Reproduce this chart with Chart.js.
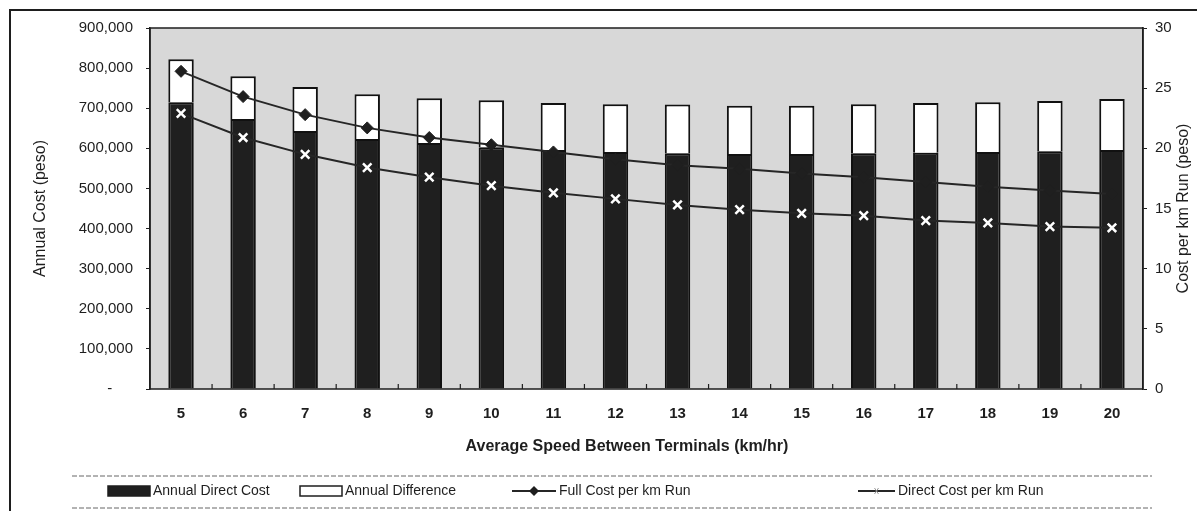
<!DOCTYPE html>
<html>
<head>
<meta charset="utf-8">
<script src="https://cdn.jsdelivr.net/npm/chart.js@4.4.0/dist/chart.umd.min.js"></script>
<style>
  html, body { margin: 0; padding: 0; background: #fff; }
  #wrap { width: 1197px; height: 511px; }
</style>
</head>
<body>
<div id="wrap"><canvas id="myChart" width="1197" height="511"></canvas></div>
<script>
const speeds = ["5", "6", "7", "8", "9", "10", "11", "12", "13", "14", "15", "16", "17", "18", "19", "20"],
    annualDirectCost = [715000, 673000, 643000, 623000, 613000, 603000, 596000, 591000, 588000, 586000, 586000, 588000, 589000, 591000, 593000, 596000],
    annualDifference = [107000, 107000, 110000, 112000, 112000, 117000, 117000, 119000, 121000, 120000, 120000, 122000, 124000, 124000, 125000, 127000],
    fullCostPerKm = [26.4, 24.3, 22.8, 21.7, 20.9, 20.3, 19.7, 19.1, 18.6, 18.3, 17.9, 17.6, 17.2, 16.8, 16.5, 16.2],
    directCostPerKm = [22.9, 20.9, 19.5, 18.4, 17.6, 16.9, 16.3, 15.8, 15.3, 14.9, 14.6, 14.4, 14.0, 13.8, 13.5, 13.4],
    costTicks = [0, 100000, 200000, 300000, 400000, 500000, 600000, 700000, 800000, 900000],
    perKmTicks = [0, 5, 10, 15, 20, 25, 30];

const FONT = "'Liberation Sans', Arial, sans-serif",
    INK = "#1e1e1e",
    BAR_DARK = "#1f1f1f";

// page furniture: plot fill, frame, inside ticks, titles, legend
const furniture = {
    id: "furniture",
    beforeDraw(chart) {
        const { ctx, chartArea: a } = chart;
        ctx.save();
        ctx.fillStyle = "#fff";
        ctx.fillRect(0, 0, chart.width, chart.height);
        ctx.fillStyle = "#d8d8d8";
        ctx.fillRect(a.left, a.top, a.right - a.left, a.bottom - a.top);
        ctx.restore();
    },
    afterDraw(chart) {
        const { ctx, chartArea: a } = chart,
            x = chart.scales.x;
        ctx.save();
        ctx.strokeStyle = INK;
        ctx.lineWidth = 1.5;
        ctx.strokeRect(a.left, a.top, a.right - a.left, a.bottom - a.top);

        // outer frame (only top + left show in the scan)
        ctx.lineWidth = 2;
        ctx.beginPath();
        ctx.moveTo(10, chart.height);
        ctx.lineTo(10, 10);
        ctx.lineTo(chart.width, 10);
        ctx.stroke();

        // small ticks between categories, pointing up into the plot
        ctx.lineWidth = 1.2;
        for (let i = 0; i < speeds.length - 1; i++) {
            const px = (x.getPixelForTick(i) + x.getPixelForTick(i + 1)) / 2;
            ctx.beginPath();
            ctx.moveTo(px, a.bottom);
            ctx.lineTo(px, a.bottom - 5);
            ctx.stroke();
        }

        ctx.fillStyle = INK;
        ctx.textAlign = "center";
        ctx.textBaseline = "middle";

        // x title sits a bit left of the plot centre in the original
        ctx.font = "bold 16px " + FONT;
        ctx.fillText("Average Speed Between Terminals (km/hr)", 627, 447);

        // right axis title, reads bottom to top
        ctx.font = "16px " + FONT;
        ctx.translate(1184, (a.top + a.bottom) / 2);
        ctx.rotate(-Math.PI / 2);
        ctx.fillText("Cost per km Run (peso)", 0, 0);
        ctx.restore();

        drawLegend(chart);
    }
};

function drawLegend(chart) {
    const ctx = chart.ctx,
        ds = chart.data.datasets,
        y = 491;
    ctx.save();
    ctx.strokeStyle = "#666";
    ctx.lineWidth = 1;
    ctx.setLineDash([5, 2]);
    ctx.beginPath();
    ctx.moveTo(72, 476); ctx.lineTo(1152, 476);
    ctx.moveTo(72, 508); ctx.lineTo(1152, 508);
    ctx.stroke();
    ctx.setLineDash([]);

    ctx.font = "14px " + FONT;
    ctx.textBaseline = "middle";

    // bar entries
    const bars = [[ds[2], 108], [ds[3], 300]];
    for (const [d, lx] of bars) {
        ctx.fillStyle = d.backgroundColor;
        ctx.fillRect(lx, y - 5, 42, 10);
        ctx.strokeStyle = INK;
        ctx.lineWidth = 1.5;
        ctx.strokeRect(lx, y - 5, 42, 10);
        ctx.fillStyle = INK;
        ctx.fillText(d.label, lx + 45, y);
    }

    // line entries
    const lines = [[ds[0], 512, 44], [ds[1], 858, 37]];
    for (const [d, lx, w] of lines) {
        const cx = lx + w / 2;
        ctx.strokeStyle = d.borderColor;
        ctx.lineWidth = 2;
        ctx.beginPath();
        ctx.moveTo(lx, y); ctx.lineTo(lx + w, y);
        ctx.stroke();
        if (d.pointStyle === "rectRot") {
            ctx.fillStyle = INK;
            ctx.beginPath();
            ctx.moveTo(cx, y - 5);
            ctx.lineTo(cx + 5, y);
            ctx.lineTo(cx, y + 5);
            ctx.lineTo(cx - 5, y);
            ctx.closePath();
            ctx.fill();
        } else {
            ctx.strokeStyle = "#999";
            ctx.lineWidth = 1;
            ctx.beginPath();
            ctx.moveTo(cx - 2, y - 3); ctx.lineTo(cx + 2, y + 3);
            ctx.moveTo(cx + 2, y - 3); ctx.lineTo(cx - 2, y + 3);
            ctx.stroke();
        }
        ctx.fillStyle = INK;
        ctx.fillText(d.label, lx + w + 3, y);
    }
    ctx.restore();
}

const ctx = document.getElementById("myChart").getContext("2d"),
    myChart = new Chart(ctx, {
        type: "bar",
        data: {
            labels: speeds,
            datasets: [{
                type: "line",
                label: "Full Cost per km Run",
                data: fullCostPerKm,
                yAxisID: "y1",
                order: 0,
                borderColor: "#262626",
                borderWidth: 2,
                pointStyle: "rectRot",
                pointRadius: 6,
                pointBackgroundColor: BAR_DARK,
                pointBorderColor: BAR_DARK,
                pointBorderWidth: 1
            }, {
                type: "line",
                label: "Direct Cost per km Run",
                data: directCostPerKm,
                yAxisID: "y1",
                order: 0,
                borderColor: "#262626",
                borderWidth: 2,
                pointStyle: "crossRot",
                pointRadius: 6,
                pointBackgroundColor: "#fff",
                pointBorderColor: "#fff",
                pointBorderWidth: 2.5
            }, {
                label: "Annual Direct Cost",
                data: annualDirectCost,
                yAxisID: "y",
                order: 1,
                backgroundColor: BAR_DARK,
                borderColor: "#111",
                borderWidth: 2,
                barPercentage: 0.41,
                categoryPercentage: 1
            }, {
                label: "Annual Difference",
                data: annualDifference,
                yAxisID: "y",
                order: 1,
                backgroundColor: "#ffffff",
                borderColor: "#111",
                borderWidth: 2,
                barPercentage: 0.41,
                categoryPercentage: 1
            }]
        },
        options: {
            responsive: false,
            animation: false,
            devicePixelRatio: 1,
            layout: { padding: { top: 28, left: 0, right: 0, bottom: 52 } },
            plugins: {
                legend: { display: false },
                tooltip: { enabled: false }
            },
            scales: {
                x: {
                    stacked: true,
                    offset: true,
                    grid: { display: false, drawTicks: false },
                    border: { display: false },
                    ticks: { color: INK, padding: 16, font: { family: FONT, size: 15, weight: "bold" } },
                    afterFit(scale) { scale.height = 70; }
                },
                y: {
                    stacked: true,
                    position: "left",
                    min: costTicks[0],
                    max: costTicks[costTicks.length - 1],
                    afterBuildTicks(scale) { scale.ticks = costTicks.map(v => ({ value: v })); },
                    grid: { drawOnChartArea: false, tickLength: 4, color: INK },
                    border: { color: INK, width: 1.5 },
                    ticks: {
                        color: INK,
                        padding: 13,
                        font: { family: FONT, size: 15 },
                        callback: v => v === 0 ? "-     " : v.toLocaleString("en-US")
                    },
                    title: {
                        display: true,
                        text: "Annual Cost (peso)",
                        color: INK,
                        font: { family: FONT, size: 16 },
                        padding: { top: 31, bottom: 0 }
                    },
                    afterFit(scale) { scale.width = 150; }
                },
                y1: {
                    position: "right",
                    min: perKmTicks[0],
                    max: perKmTicks[perKmTicks.length - 1],
                    afterBuildTicks(scale) { scale.ticks = perKmTicks.map(v => ({ value: v })); },
                    grid: { drawOnChartArea: false, tickLength: 4, color: INK },
                    border: { color: INK, width: 1.5 },
                    ticks: { color: INK, padding: 8, font: { family: FONT, size: 15 } },
                    afterFit(scale) { scale.width = 54; }
                }
            }
        },
        plugins: [furniture]
    });
</script>
</body>
</html>
